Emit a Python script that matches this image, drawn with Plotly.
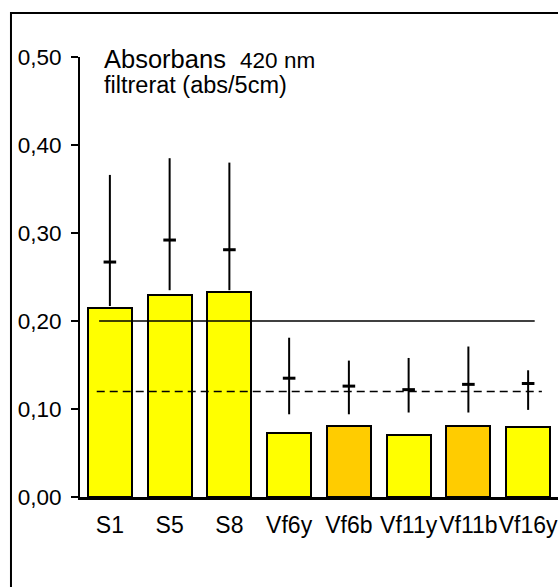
import plotly.graph_objects as go

# Sample categories and absorbance values (abs/5cm at 420 nm, filtered)
categories = ["S1", "S5", "S8", "Vf6y", "Vf6b", "Vf11y", "Vf11b", "Vf16y"]
bar_values = [0.215, 0.230, 0.233, 0.073, 0.081, 0.070, 0.081, 0.079]
bar_colors = ["#FFFF00", "#FFFF00", "#FFFF00", "#FFFF00", "#FFCC00", "#FFFF00", "#FFCC00", "#FFFF00"]

# Mean with min/max range for each sample
mean_values = [0.267, 0.292, 0.281, 0.135, 0.126, 0.122, 0.128, 0.129]
max_values = [0.366, 0.385, 0.380, 0.181, 0.155, 0.158, 0.171, 0.144]
min_values = [0.217, 0.235, 0.235, 0.094, 0.094, 0.096, 0.096, 0.099]

# Reference levels
limit_solid = 0.20
limit_dashed = 0.12

y_ticks = [0.0, 0.1, 0.2, 0.3, 0.4, 0.5]
y_tick_text = ["0,00", "0,10", "0,20", "0,30", "0,40", "0,50"]

FONT = "Arial, Liberation Sans, sans-serif"
x_idx = list(range(len(categories)))

fig = go.Figure()

fig.add_trace(go.Bar(
    x=x_idx, y=bar_values, width=0.74,
    marker=dict(color=bar_colors, line=dict(color="black", width=2)),
    showlegend=False, hoverinfo="skip",
))

fig.add_trace(go.Scatter(
    x=x_idx, y=mean_values, mode="markers",
    marker=dict(symbol="line-ew", size=9, color="black",
                line=dict(color="black", width=3)),
    error_y=dict(type="data", symmetric=False,
                 array=[hi - m for hi, m in zip(max_values, mean_values)],
                 arrayminus=[m - lo for m, lo in zip(mean_values, min_values)],
                 color="black", thickness=2, width=0),
    showlegend=False, hoverinfo="skip",
))

# Reference lines
fig.add_shape(type="line", xref="x", yref="y", x0=-0.18, x1=7.11,
              y0=limit_solid, y1=limit_solid, line=dict(color="black", width=1.5))
fig.add_shape(type="line", xref="x", yref="y", x0=-0.22, x1=7.23,
              y0=limit_dashed, y1=limit_dashed,
              line=dict(color="black", width=1.5, dash="8px,5px"))

# Outer frame
fig.add_shape(type="rect", xref="paper", yref="paper",
              x0=-0.1444, x1=1.05, y0=-0.4, y1=1.1,
              line=dict(color="black", width=2), fillcolor="rgba(0,0,0,0)", layer="below")

fig.add_annotation(xref="paper", yref="paper", x=0.045, y=0.995, xanchor="left", yanchor="middle",
                   text="Absorbans  <span style='font-size:22.5px'>420 nm</span>",
                   showarrow=False, font=dict(family=FONT, size=25.5, color="black"))
fig.add_annotation(xref="paper", yref="paper", x=0.045, y=0.937, xanchor="left", yanchor="middle",
                   text="filtrerat (abs/5cm)",
                   showarrow=False, font=dict(family=FONT, size=23.5, color="black"))

fig.update_layout(
    width=558, height=587,
    margin=dict(l=80, r=0, t=57, b=90),
    paper_bgcolor="white", plot_bgcolor="white",
    bargap=0,
    xaxis=dict(
        range=[-0.5, 7.5], tickvals=x_idx, ticktext=categories, tickangle=0,
        showline=True, linecolor="black", linewidth=3,
        ticks="", showgrid=False, zeroline=False,
        tickfont=dict(family=FONT, size=23, color="black"),
        ticklabelstandoff=5, ticklabeloverflow="allow", automargin=False,
    ),
    yaxis=dict(
        range=[0, 0.5], tickvals=y_ticks, ticktext=y_tick_text,
        showline=True, linecolor="black", linewidth=2,
        ticks="outside", ticklen=7, tickwidth=2, tickcolor="black",
        showgrid=False, zeroline=False,
        tickfont=dict(family=FONT, size=22.5, color="black"),
        ticklabelstandoff=5, automargin=False,
    ),
)

fig.write_html("out.html")
